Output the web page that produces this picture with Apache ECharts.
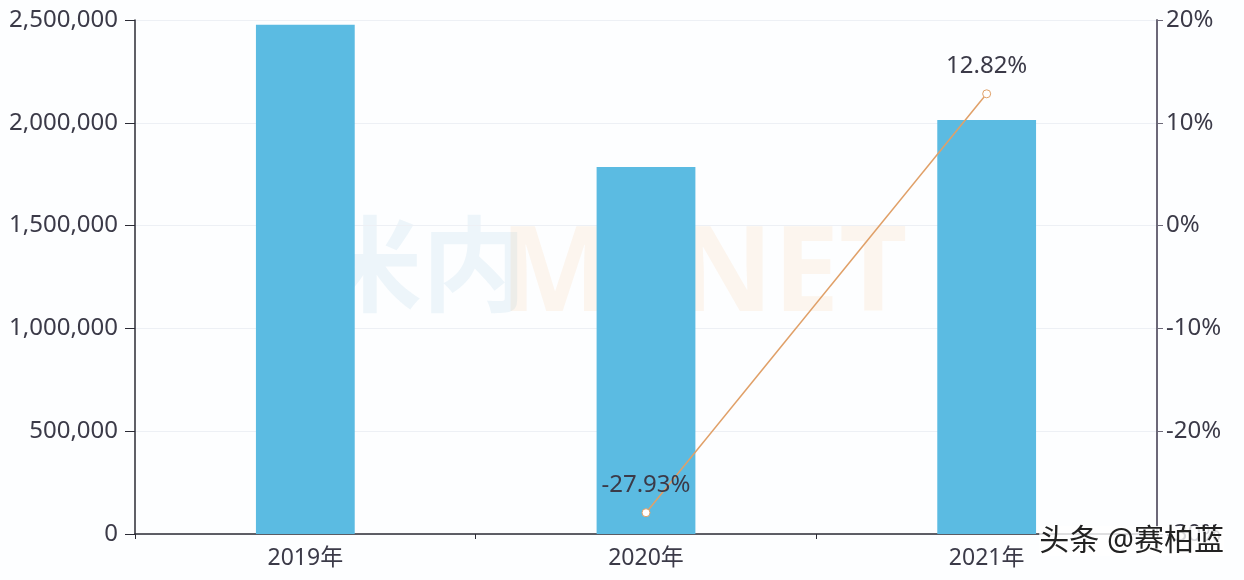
<!DOCTYPE html>
<html>
<head>
<meta charset="utf-8">
<script src="https://cdn.jsdelivr.net/npm/echarts@6/dist/echarts.min.js"></script>
<style>
  html, body { margin: 0; padding: 0; background: #fff; }
  #main { width: 1244px; height: 580px; }
</style>
</head>
<body>
<div id="main"></div>
<script>
var years = ['2019年', '2020年', '2021年']
var sales = [2477000, 1785000, 2014000]
var growth = [null, -27.93, 12.82]
var pctTicks = { min: -30, max: 20, interval: 10 }

var font = "'Noto Sans', 'Noto Sans CJK SC', sans-serif"
var labelColor = '#3b3a48'

var chart = echarts.init(document.getElementById('main'))
chart.setOption({
  backgroundColor: '#fdfeff',
  textStyle: { fontFamily: font },
  grid: { left: 135, right: 87, top: 20, bottom: 46 },
  graphic: [
    {
      type: 'text',
      left: 318,
      top: 222,
      silent: true,
      style: { text: '米内', fill: 'rgba(120,180,215,0.12)', font: 'bold 104px ' + font }
    },
    {
      type: 'text',
      left: 500,
      top: 218,
      silent: true,
      style: { text: 'MENET', fill: 'rgba(245,170,90,0.10)', font: 'bold 118px ' + font }
    },
    {
      type: 'text',
      right: 20,
      top: 526,
      z: 100,
      style: {
        text: '头条 @赛柏蓝',
        fill: '#222',
        font: '30px ' + font,
        backgroundColor: 'rgba(255,255,255,0.8)'
      }
    }
  ],
  xAxis: {
    type: 'category',
    data: years,
    axisLine: { lineStyle: { color: '#2b2b35', width: 1.5 } },
    axisTick: { show: true, alignWithLabel: false, length: 5, lineStyle: { color: '#2b2b35' } },
    axisLabel: { color: labelColor, fontSize: 23, margin: 13 }
  },
  yAxis: [
    {
      type: 'value',
      min: 0,
      max: 2500000,
      interval: 500000,
      axisLine: { show: true, lineStyle: { color: '#2b2b35', width: 1.5 } },
      axisTick: { show: true, length: 10, lineStyle: { color: '#2b2b35' } },
      axisLabel: {
        color: labelColor,
        fontSize: 24,
        margin: 17,
        formatter: function (v) { return v.toLocaleString('en-US') }
      },
      splitLine: { lineStyle: { color: '#edf0f5' } }
    },
    {
      type: 'value',
      min: pctTicks.min,
      max: pctTicks.max,
      interval: pctTicks.interval,
      axisLine: { show: true, lineStyle: { color: '#6c6878', width: 2 } },
      axisTick: { show: true, length: 6, lineStyle: { color: '#6c6878' } },
      axisLabel: { color: labelColor, fontSize: 24, margin: 9, formatter: '{value}%' },
      splitLine: { show: false }
    }
  ],
  series: [
    {
      name: '销售额',
      type: 'bar',
      data: sales,
      barWidth: '29%',
      itemStyle: { color: '#5bbbe2' }
    },
    {
      name: '增长率',
      type: 'line',
      yAxisIndex: 1,
      data: growth,
      symbol: 'circle',
      symbolSize: 8,
      lineStyle: { color: '#e0a068', width: 1.5 },
      itemStyle: { color: '#ffffff', borderColor: '#e0a068', borderWidth: 1 },
      label: {
        show: true,
        position: 'top',
        distance: 11,
        color: labelColor,
        fontSize: 24,
        formatter: function (p) { return p.value.toFixed(2) + '%' }
      }
    }
  ]
})
</script>
</body>
</html>
